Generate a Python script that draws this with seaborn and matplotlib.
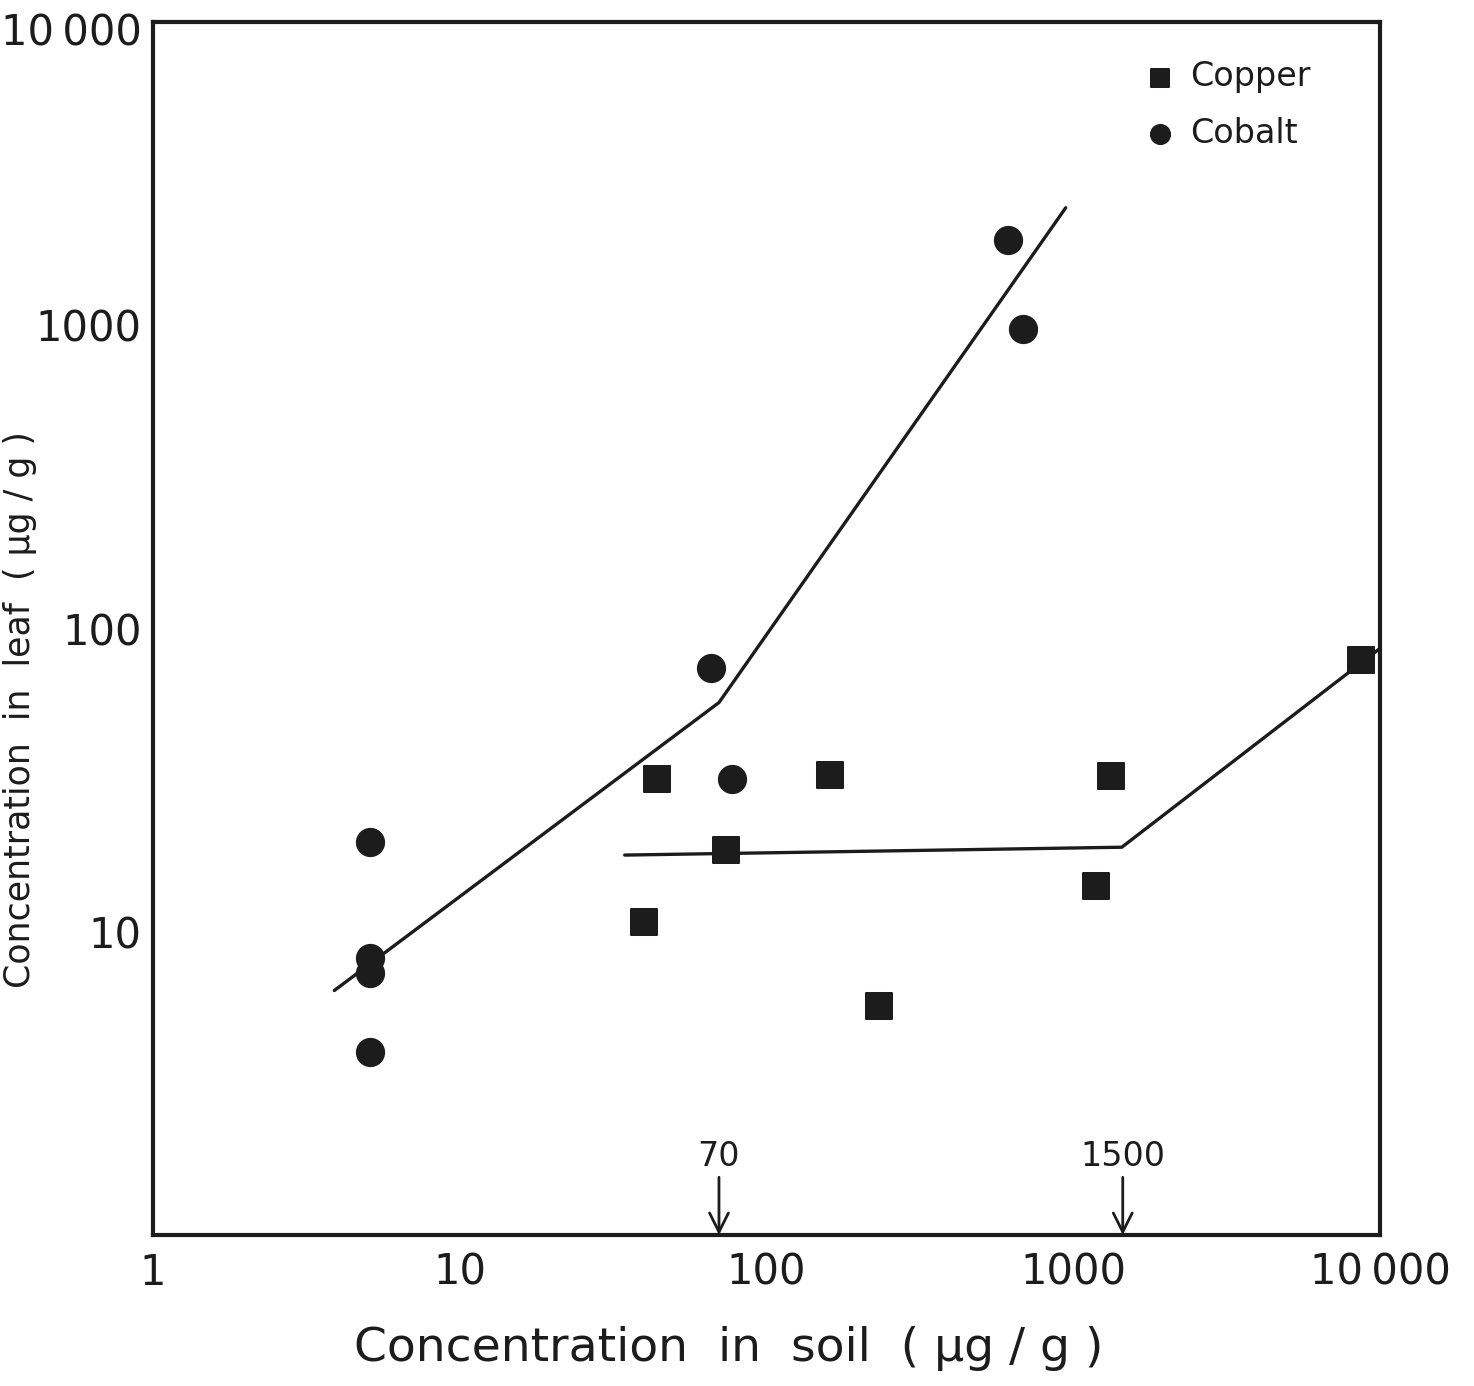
import numpy as np
import pandas as pd
import seaborn as sns
import matplotlib.pyplot as plt
from matplotlib.transforms import ScaledTranslation

# measured points (soil vs leaf concentration, ug/g)
copper_soil = [44, 161, 74, 40, 233, 1325, 1190, 8700]
copper_leaf = [32, 33, 18.6, 10.8, 5.7, 32.7, 14.2, 79]
cobalt_soil = [615, 684, 66, 77, 5.1, 5.1, 5.1, 5.1]
cobalt_leaf = [1910, 970, 74, 32, 19.8, 8.2, 7.3, 4.0]

# fitted broken lines
cobalt_fit_x = [3.9, 70, 945]
cobalt_fit_y = [6.4, 57, 2440]
copper_fit_x = [34.5, 1440, 10000]
copper_fit_y = [17.9, 19.0, 86]

# threshold arrows on the x axis
arrow_vals = [70, 1450]
arrow_labels = ["70", "1500"]

x_ticks = [1, 10, 100, 1000, 10000]
x_ticklabels = ["1", "10", "100", "1000", "10\u2009000"]
y_ticks = [10, 100, 1000, 10000]
y_ticklabels = ["10", "100", "1000", "10\u2009000"]

sns.set_style("white")
plt.rcParams["font.family"] = ["DejaVu Sans"]

ink = "#1c1c1c"
fig = plt.figure(figsize=(14.74, 13.86), dpi=100)
ax = fig.add_axes([153 / 1474, 1 - 1235 / 1386, 1227 / 1474, 1213 / 1386])

copper = pd.DataFrame({"soil": copper_soil, "leaf": copper_leaf})
cobalt = pd.DataFrame({"soil": cobalt_soil, "leaf": cobalt_leaf})

sns.lineplot(x=cobalt_fit_x, y=cobalt_fit_y, sort=False, estimator=None,
             color=ink, lw=2.4, ax=ax)
sns.lineplot(x=copper_fit_x, y=copper_fit_y, sort=False, estimator=None,
             color=ink, lw=2.4, ax=ax)
sns.scatterplot(data=copper, x="soil", y="leaf", marker="s", s=330,
                color=ink, edgecolor=ink, ax=ax, label="Copper", zorder=3)
sns.scatterplot(data=cobalt, x="soil", y="leaf", marker="o", s=380,
                color=ink, edgecolor=ink, ax=ax, label="Cobalt", zorder=3)

ax.set_xscale("log")
ax.set_yscale("log")
ax.set_xlim(1, 10000)
ax.set_ylim(1, 10000)
ax.minorticks_off()
ax.set_xticks(x_ticks)
ax.set_xticklabels(x_ticklabels)
ax.set_yticks(y_ticks)
ax.set_yticklabels(y_ticklabels)
ax.tick_params(direction="in", length=20, width=2.2, color=ink,
               labelsize=30, labelcolor=ink)
ax.tick_params(axis="x", pad=12)
ax.tick_params(axis="y", pad=8)
for sp in ax.spines.values():
    sp.set_linewidth(3)
    sp.set_color(ink)

# nudge the top y label down a little so it stays inside the figure
top_lab = ax.get_yticklabels()[-1]
top_lab.set_transform(top_lab.get_transform()
                      + ScaledTranslation(0, -5 / 72, fig.dpi_scale_trans))

ax.set_xlabel("Concentration  in  soil  ( µg / g )", fontsize=34,
              color=ink)
ax.xaxis.set_label_coords((729 - 153) / 1227, -(1326 - 1235) / 1213)
ax.set_ylabel("")
fig.text(30 / 1474, 1 - 710 / 1386, "Concentration  in  leaf  ( µg / g )",
         rotation=90, rotation_mode="anchor", ha="center", va="baseline",
         fontsize=25, color=ink)

for v, lab in zip(arrow_vals, arrow_labels):
    ax.annotate("", xy=(v, 1.0), xytext=(v, 1.55),
                arrowprops=dict(arrowstyle="->", color=ink, lw=2,
                                mutation_scale=34, shrinkA=0, shrinkB=0))
    ax.text(v, 1.82, lab, ha="center", va="center", fontsize=24, color=ink)

leg = ax.legend(loc="upper right", bbox_to_anchor=(0.968, 0.993),
                frameon=False, fontsize=24, markerscale=0.7,
                handlelength=1.0, handletextpad=0.4, labelspacing=0.7,
                labelcolor=ink)

fig.savefig("out.png", dpi=100, facecolor="white")
